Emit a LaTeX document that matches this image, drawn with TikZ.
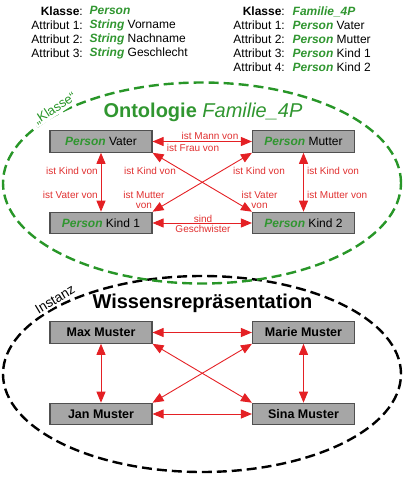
\documentclass[tikz,border=0pt]{standalone}
\usepackage{fontspec}
\setmainfont{Liberation Sans}
\usetikzlibrary{arrows.meta}
\definecolor{pgreen}{RGB}{48,150,48}
\definecolor{egreen}{RGB}{40,150,40}
\definecolor{ared}{RGB}{228,32,36}
\definecolor{tred}{RGB}{224,48,48}
\definecolor{boxfill}{RGB}{166,166,166}
\definecolor{boxline}{RGB}{80,80,80}
\newcommand{\pers}{\textcolor{pgreen}{\textbf{\textit{Person}}}}
\newcommand{\strg}{\textcolor{pgreen}{\textbf{\textit{String}}}}
\tikzset{
  ubox/.style={draw=boxline, line width=1.1pt, fill=boxfill, minimum width=102pt, minimum height=21.5pt, inner sep=0pt, font=\fontsize{12}{14}\selectfont},
  ibox/.style={ubox, font=\fontsize{12.5}{14}\selectfont\bfseries},
  arr/.style={draw=ared, line width=0.9pt, {Triangle[length=11pt,width=9pt]}-{Triangle[length=11pt,width=9pt]}},
  lbl/.style={text=tred, inner sep=0pt, font=\fontsize{10}{10.5}\selectfont},
  toptext/.style={inner sep=0pt, font=\fontsize{12}{14}\selectfont},
  ring/.style={dash pattern=on 10pt off 5pt, line width=2.4pt},
}
\begin{document}
\begin{tikzpicture}[x=1pt,y=-1pt]
\useasboundingbox (0,0) rectangle (404,477);
% header text
\node[toptext, anchor=north east, align=right] (hlk) at (83,6.5) {\textbf{Klasse}:\\Attribut 1:\\Attribut 2:\\Attribut 3:};
\node[toptext, anchor=north west, align=left] (hlv) at (89.5,6.5) {\textcolor{pgreen}{\textbf{\textit{Person}}}\\\strg{} Vorname\\\strg{} Nachname\\\strg{} Geschlecht};
\node[toptext, anchor=north east, align=right] (hrk) at (285,6.5) {\textbf{Klasse}:\\Attribut 1:\\Attribut 2:\\Attribut 3:\\Attribut 4:};
\node[toptext, anchor=north west, align=left] (hrv) at (292.5,6.5) {\textcolor{pgreen}{\textbf{\textit{Familie\_4P}}}\\\pers{} Vater\\\pers{} Mutter\\\pers{} Kind 1\\\pers{} Kind 2};
% ellipses
\draw[ring, black] (202,374) ellipse [x radius=199pt, y radius=98pt];
\draw[ring, egreen] (202,183) ellipse [x radius=199pt, y radius=100.5pt];
\node[fill=white, inner sep=1.2pt, rotate=33, text=egreen, font=\fontsize{13}{14}\selectfont] (klasse) at (55,108.5) {„Klasse“};
\node[fill=white, inner sep=1.2pt, rotate=31, font=\fontsize{13.5}{14}\selectfont] (instanz) at (55,299.5) {Instanz};
% titles
\node[text=pgreen, inner sep=0pt, font=\fontsize{20}{22}\selectfont] (onto) at (203,112) {\textbf{Ontologie} \textit{Familie\_4P}};
\node[inner sep=0pt, font=\fontsize{20}{22}\selectfont\bfseries] (wissen) at (202.5,303) {Wissensrepräsentation};
% ontology boxes
\node[ubox] (vater) at (101,141.5) {\pers{} Vater};
\node[ubox] (mutter) at (303.5,141.5) {\pers{} Mutter};
\node[ubox] (kind1) at (101,223) {\pers{} Kind 1};
\node[ubox] (kind2) at (303.5,223) {\pers{} Kind 2};
\draw[arr] (vater.east) -- (mutter.west);
\draw[arr] (kind1.east) -- (kind2.west);
\draw[arr] (vater.south) -- (kind1.north);
\draw[arr] (mutter.south) -- (kind2.north);
\draw[arr] (vater.south east) -- (kind2.north west);
\draw[arr] (mutter.south west) -- (kind1.north east);
\node[lbl] (l1) at (210,135.5) {ist Mann von};
\node[lbl] (l2) at (193,148) {ist Frau von};
\node[lbl, anchor=east] (l3) at (98,171) {ist Kind von};
\node[lbl, anchor=east] (l4) at (98,195) {ist Vater von};
\node[lbl, anchor=west] (l5) at (307,171) {ist Kind von};
\node[lbl, anchor=west] (l6) at (307,195) {ist Mutter von};
\node[lbl] (l7) at (150,171) {ist Kind von};
\node[lbl, align=center] (l8) at (144,200) {ist Mutter\\von};
\node[lbl] (l9) at (259,171) {ist Kind von};
\node[lbl, align=center] (l10) at (259.5,200) {ist Vater\\von};
\node[lbl, align=center] (l11) at (203,224) {sind\\Geschwister};
% instance boxes
\node[ibox] (max) at (101,332.5) {Max Muster};
\node[ibox] (marie) at (303.5,332.5) {Marie Muster};
\node[ibox] (jan) at (101,414) {Jan Muster};
\node[ibox] (sina) at (303.5,414) {Sina Muster};
\draw[arr] (max.east) -- (marie.west);
\draw[arr] (jan.east) -- (sina.west);
\draw[arr] (max.south) -- (jan.north);
\draw[arr] (marie.south) -- (sina.north);
\draw[arr] (max.south east) -- (sina.north west);
\draw[arr] (marie.south west) -- (jan.north east);
\end{tikzpicture}
\end{document}
